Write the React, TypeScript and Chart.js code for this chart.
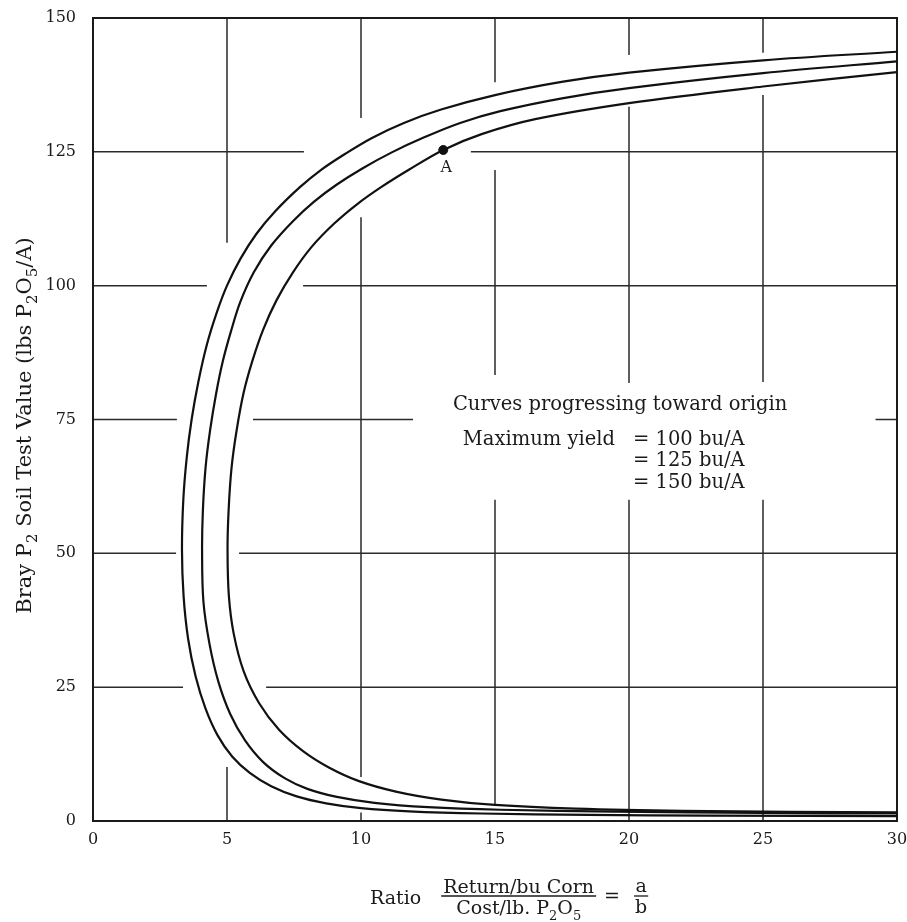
import { useEffect, useRef } from 'react';
import { Chart, registerables } from 'chart.js';

Chart.register(...registerables);

const X_TICKS = [0, 5, 10, 15, 20, 25, 30];
const Y_TICKS = [0, 25, 50, 75, 100, 125, 150];

// Each curve runs from its bottom tail, round the vertical bend, out along its upper arm.
const curveOuter: [number, number][] = [
  [30, 0.9], [23, 1.0], [18.5, 1.15], [14.5, 1.4], [11.8, 1.8], [10.0, 2.4], [8.7, 3.3], [7.6, 4.6],
  [6.65, 6.5], [5.85, 9.0], [5.2, 12.0], [4.65, 16.0], [4.2, 21.0], [3.83, 27.0], [3.55, 34.0],
  [3.38, 42.0], [3.32, 50.6], [3.37, 60.0], [3.5, 68.0], [3.68, 75.0], [3.93, 82.0], [4.25, 89.0],
  [4.62, 95.0], [5.0, 100.0], [5.5, 105.0], [6.1, 109.7], [6.8, 113.9], [7.72, 118.4], [8.5, 121.6],
  [9.4, 124.6], [10.41, 127.6], [11.6, 130.4], [12.99, 132.9], [15, 135.6], [17.54, 138.1],
  [20, 139.8], [25, 142.1], [30, 143.7],
];
const curveMiddle: [number, number][] = [
  [30, 1.4], [25, 1.5], [19.5, 1.75], [15.2, 2.1], [12.5, 2.6], [10.5, 3.4], [9.1, 4.5], [8.0, 6.0],
  [7.15, 8.0], [6.35, 11.0], [5.68, 15.0], [5.12, 20.0], [4.68, 26.0], [4.35, 33.0], [4.12, 41.0],
  [4.07, 50.6], [4.1, 58.0], [4.2, 66.0], [4.37, 73.0], [4.6, 80.0], [4.85, 86.0], [5.15, 91.5],
  [5.5, 97.0], [6.0, 102.5], [6.65, 107.5], [7.45, 112.0], [8.25, 115.7], [9.1, 118.9], [10.05, 121.9],
  [11.15, 124.9], [12.4, 127.8], [13.7, 130.4], [15.2, 132.6], [17.5, 135.0], [20, 136.9],
  [25, 139.7], [30, 141.9],
];
const curveInner: [number, number][] = [
  [30, 1.6], [22, 1.9], [18, 2.3], [15.0, 3.0], [13.0, 4.0], [11.3, 5.5], [9.9, 7.5], [8.8, 10.0],
  [7.85, 13.0], [6.95, 17.0], [6.2, 22.0], [5.62, 28.0], [5.25, 35.0], [5.07, 42.0], [5.02, 50.6],
  [5.06, 58.0], [5.17, 66.0], [5.36, 73.0], [5.62, 80.0], [5.95, 86.0], [6.35, 91.8], [6.85, 97.3],
  [7.45, 102.4], [8.15, 107.2], [9.0, 111.6], [9.85, 115.2], [10.75, 118.4], [11.8, 121.7],
  [13.07, 125.35], [14.5, 128.3], [16.5, 131.1], [20, 134.1], [25, 137.2], [30, 139.9],
];
const pointA: [number, number] = [13.07, 125.35];
const pointALabel = 'A';

const noteHeading = 'Curves progressing toward origin';
const noteLead = 'Maximum yield';
const yieldNotes = ['= 100 bu/A', '= 125 bu/A', '= 150 bu/A'];

// Grid rulings: [axis value, runs along the other axis]; they stop short of curves and lettering.
const verticalRuns: [number, [number, number][]][] = [
  [5, [[108, 150], [0, 10.1]]],
  [10, [[131.3, 150], [8.2, 112.8], [0, 1.6]]],
  [15, [[138, 150], [83.3, 121.6], [2.8, 60]]],
  [20, [[143.1, 150], [81.8, 133.4], [0, 60]]],
  [25, [[143.5, 150], [82, 135.6], [0, 60]]],
];
const horizontalRuns: [number, [number, number][]][] = [
  [25, [[0, 3.36], [6.46, 30]]],
  [50, [[0, 3.1], [5.45, 30]]],
  [75, [[0, 3.13], [5.97, 11.94], [29.2, 30]]],
  [100, [[0, 4.25], [7.84, 30]]],
  [125, [[0, 7.87], [14.1, 30]]],
];

const FONT = '"DejaVu Serif", serif';
const INK = '#1a1a1a';

type Part = { t: string; sub?: boolean };

function partsWidth(ctx: CanvasRenderingContext2D, parts: Part[], size: number) {
  let w = 0;
  for (const p of parts) {
    ctx.font = `${p.sub ? Math.round(size * 0.7) : size}px ${FONT}`;
    w += ctx.measureText(p.t).width;
  }
  return w;
}

function drawParts(ctx: CanvasRenderingContext2D, parts: Part[], x: number, y: number, size: number) {
  let cx = x;
  ctx.textAlign = 'left';
  ctx.textBaseline = 'alphabetic';
  for (const p of parts) {
    ctx.font = `${p.sub ? Math.round(size * 0.7) : size}px ${FONT}`;
    ctx.fillText(p.t, cx, p.sub ? y + size * 0.3 : y);
    cx += ctx.measureText(p.t).width;
  }
  return cx;
}

const gridPlugin = {
  id: 'brokenGrid',
  beforeDatasetsDraw(chart: any) {
    const { ctx, chartArea: ca, scales } = chart;
    const xs = scales.x;
    const ys = scales.y;
    ctx.save();
    ctx.strokeStyle = '#2b2b2b';
    ctx.lineWidth = 1.5;
    ctx.beginPath();
    for (const [xv, runs] of verticalRuns) {
      const px = xs.getPixelForValue(xv);
      for (const [a, b] of runs) {
        ctx.moveTo(px, ys.getPixelForValue(a));
        ctx.lineTo(px, ys.getPixelForValue(b));
      }
    }
    for (const [yv, runs] of horizontalRuns) {
      const py = ys.getPixelForValue(yv);
      for (const [a, b] of runs) {
        ctx.moveTo(xs.getPixelForValue(a), py);
        ctx.lineTo(xs.getPixelForValue(b), py);
      }
    }
    ctx.stroke();
    ctx.lineWidth = 2;
    ctx.strokeStyle = INK;
    ctx.strokeRect(ca.left, ca.top, ca.right - ca.left, ca.bottom - ca.top);
    ctx.restore();
  },
};

const textPlugin = {
  id: 'lettering',
  afterDraw(chart: any) {
    const { ctx, chartArea: ca, scales } = chart;
    const xs = scales.x;
    const ys = scales.y;
    ctx.save();
    ctx.fillStyle = INK;
    ctx.strokeStyle = INK;

    // Note block inside the plot
    ctx.font = `19.5px ${FONT}`;
    ctx.textAlign = 'left';
    ctx.textBaseline = 'alphabetic';
    ctx.fillText(noteHeading, xs.getPixelForValue(13.43), ys.getPixelForValue(76.8));
    ctx.fillText(noteLead, xs.getPixelForValue(13.8), ys.getPixelForValue(70.2));
    const noteRows = [70.2, 66.3, 62.2];
    yieldNotes.forEach((s, i) => {
      ctx.fillText(s, xs.getPixelForValue(20.15), ys.getPixelForValue(noteRows[i]));
    });

    // Label under point A
    ctx.font = `16px ${FONT}`;
    ctx.textAlign = 'center';
    ctx.fillText(pointALabel, xs.getPixelForValue(pointA[0]) + 3, ys.getPixelForValue(pointA[1]) + 22);

    // Y-axis title, rotated
    const yParts: Part[] = [
      { t: 'Bray P' }, { t: '2', sub: true }, { t: ' Soil Test Value (lbs P' }, { t: '2', sub: true },
      { t: 'O' }, { t: '5', sub: true }, { t: '/A)' },
    ];
    const ySize = 21;
    const yw = partsWidth(ctx, yParts, ySize);
    ctx.save();
    ctx.translate(ca.left - 62, (ca.top + ca.bottom) / 2 + 6);
    ctx.rotate(-Math.PI / 2);
    drawParts(ctx, yParts, -yw / 2, 0, ySize);
    ctx.restore();

    // X-axis title: Ratio  (Return/bu Corn) / (Cost/lb. P2O5) = a / b
    const size = 19;
    const barY = ca.bottom + 75;
    let x = ca.left + 277;
    x = drawParts(ctx, [{ t: 'Ratio' }], x, ca.bottom + 83, size);
    const num: Part[] = [{ t: 'Return/bu Corn' }];
    const den: Part[] = [{ t: 'Cost/lb. P' }, { t: '2', sub: true }, { t: 'O' }, { t: '5', sub: true }];
    const nw = partsWidth(ctx, num, size);
    const dw = partsWidth(ctx, den, size);
    const fw = Math.max(nw, dw);
    const fl = x + 22;
    drawParts(ctx, num, fl + (fw - nw) / 2, ca.bottom + 72, size);
    drawParts(ctx, den, fl + (fw - dw) / 2, ca.bottom + 93, size);
    ctx.lineWidth = 1.3;
    ctx.beginPath();
    ctx.moveTo(fl - 2, barY);
    ctx.lineTo(fl + fw + 2, barY);
    ctx.stroke();
    const ex = drawParts(ctx, [{ t: '=' }], fl + fw + 10, ca.bottom + 81, size);
    ctx.font = `${size}px ${FONT}`;
    const aw = Math.max(ctx.measureText('a').width, ctx.measureText('b').width);
    const ax = ex + 15;
    ctx.textAlign = 'center';
    ctx.fillText('a', ax + aw / 2, ca.bottom + 71);
    ctx.fillText('b', ax + aw / 2, ca.bottom + 92);
    ctx.beginPath();
    ctx.moveTo(ax - 1, barY);
    ctx.lineTo(ax + aw + 1, barY);
    ctx.stroke();

    ctx.restore();
  },
};

export default function App() {
  const canvasRef = useRef<HTMLCanvasElement | null>(null);

  useEffect(() => {
    const canvas = canvasRef.current;
    if (!canvas) return;
    const toPts = (arr: [number, number][]) => arr.map(([x, y]) => ({ x, y }));
    const curveStyle = {
      showLine: true,
      borderColor: '#111',
      borderWidth: 2.2,
      pointRadius: 0,
      tension: 0.35,
      fill: false,
    };
    const chart = new Chart(canvas, {
      type: 'scatter',
      data: {
        datasets: [
          { label: '150 bu/A', data: toPts(curveOuter), ...curveStyle },
          { label: '125 bu/A', data: toPts(curveMiddle), ...curveStyle },
          { label: '100 bu/A', data: toPts(curveInner), ...curveStyle },
          {
            label: 'A',
            data: toPts([pointA]),
            pointRadius: 4.5,
            pointBackgroundColor: '#111',
            pointBorderColor: '#111',
            showLine: false,
          },
        ],
      },
      options: {
        animation: false,
        responsive: true,
        maintainAspectRatio: false,
        layout: { padding: { left: 0, top: 18, right: 10, bottom: 0 } },
        plugins: { legend: { display: false }, tooltip: { enabled: false }, title: { display: false } },
        scales: {
          x: {
            type: 'linear',
            min: 0,
            max: 30,
            afterBuildTicks: (s: any) => {
              s.ticks = X_TICKS.map((v) => ({ value: v }));
            },
            afterFit: (s: any) => {
              s.height = 101;
              s.paddingLeft = 0;
              s.paddingRight = 0;
            },
            ticks: { font: { family: FONT, size: 16 }, color: INK, padding: 9, maxRotation: 0, autoSkip: false },
            grid: { display: false, drawTicks: false },
            border: { display: false },
          },
          y: {
            type: 'linear',
            min: 0,
            max: 150,
            afterBuildTicks: (s: any) => {
              s.ticks = Y_TICKS.map((v) => ({ value: v }));
            },
            afterFit: (s: any) => {
              s.width = 93;
              s.paddingTop = 0;
              s.paddingBottom = 0;
            },
            ticks: { font: { family: FONT, size: 16 }, color: INK, padding: 17, autoSkip: false },
            grid: { display: false, drawTicks: false },
            border: { display: false },
          },
        },
      },
      plugins: [gridPlugin, textPlugin],
    });
    return () => chart.destroy();
  }, []);

  return (
    <div style={{ position: 'absolute', left: 0, top: 0, width: 907, height: 922, background: '#fff' }}>
      <canvas ref={canvasRef} />
    </div>
  );
}
